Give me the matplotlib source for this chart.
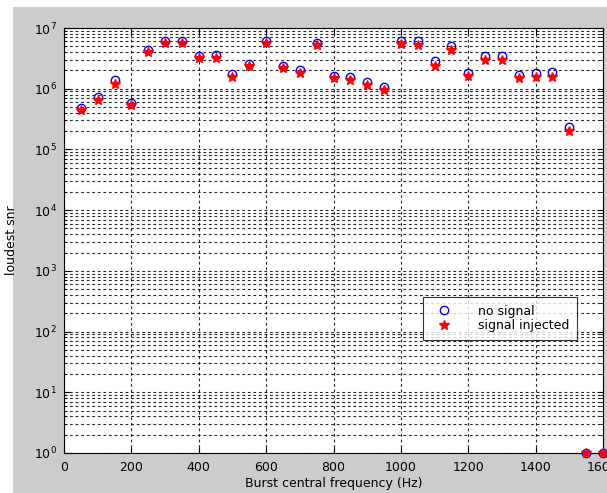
import numpy as np
import matplotlib.pyplot as plt
from matplotlib.patches import Rectangle
from matplotlib.ticker import LogLocator, FixedLocator

# burst central frequencies (Hz)
freq = [50, 100, 150, 200, 250, 300, 350, 400, 450, 500, 550, 600, 650, 700, 750, 800,
        850, 900, 950, 1000, 1050, 1100, 1150, 1200, 1250, 1300, 1350, 1400, 1450, 1500,
        1550, 1600]

# loudest snr, no signal
snr_none = [4.9e5, 7.4e5, 1.4e6, 5.9e5, 4.3e6, 6.2e6, 6.2e6, 3.5e6, 3.6e6, 1.75e6,
            2.6e6, 6.2e6, 2.4e6, 2.0e6, 5.7e6, 1.6e6, 1.58e6, 1.3e6, 1.07e6, 6.2e6,
            6.2e6, 2.9e6, 5.0e6, 1.8e6, 3.5e6, 3.4e6, 1.7e6, 1.8e6, 1.9e6, 2.3e5,
            1.0, 1.0]

# loudest snr, signal injected
snr_inj = [4.5e5, 6.5e5, 1.2e6, 5.4e5, 4.1e6, 5.7e6, 5.6e6, 3.2e6, 3.2e6, 1.58e6,
           2.4e6, 5.6e6, 2.2e6, 1.8e6, 5.3e6, 1.5e6, 1.4e6, 1.15e6, 9.6e5, 5.5e6,
           5.3e6, 2.4e6, 4.3e6, 1.65e6, 3.0e6, 3.0e6, 1.5e6, 1.58e6, 1.55e6, 2.0e5,
           1.0, 1.0]

xticks = [0, 200, 400, 600, 800, 1000, 1200, 1400, 1600]

fig = plt.figure(figsize=(6.07, 4.93), dpi=100, facecolor='white')
# grey MATLAB figure background, cropped with a white margin top/left
fig.patches.append(Rectangle((13 / 607, 0), 1, (493 - 7) / 493,
                             transform=fig.transFigure, facecolor='#cccccc',
                             edgecolor='none', zorder=-10))

ax = fig.add_axes([64 / 607, 40 / 493, 539 / 607, 425 / 493])
ax.set_facecolor('white')

ax.plot(freq, snr_none, 'o', color='blue', markerfacecolor='none',
        markersize=6, markeredgewidth=1.0, label='no signal', clip_on=False, zorder=3)
ax.plot(freq, snr_inj, '*', color='red', markersize=7, markeredgewidth=1.0,
        label='signal injected', clip_on=False, zorder=4)

ax.set_yscale('log')
ax.set_xlim(0, 1600)
ax.set_ylim(1, 1e7)
ax.xaxis.set_major_locator(FixedLocator(xticks))
ax.yaxis.set_major_locator(LogLocator(base=10, numticks=10))
ax.yaxis.set_minor_locator(LogLocator(base=10, subs=np.arange(2, 10), numticks=20))

grid_kw = dict(color='black', linestyle=(0, (2.5, 2.5)), linewidth=0.8, alpha=0.85)
ax.grid(True, which='major', axis='both', **grid_kw)
ax.grid(True, which='minor', axis='y', **grid_kw)

ax.tick_params(which='both', direction='in', top=True, right=True,
               labelsize=9, colors='black')
ax.tick_params(which='major', length=4)
ax.tick_params(which='minor', length=2)
ax.tick_params(axis='x', which='minor', bottom=False, top=False)
ax.tick_params(axis='x', pad=6)
ax.tick_params(axis='y', pad=5)

for s in ax.spines.values():
    s.set_color('black')
    s.set_linewidth(0.8)

ax.set_xlabel('Burst central frequency (Hz)', fontsize=9)
ax.set_ylabel('loudest snr', fontsize=9)
ax.xaxis.set_label_coords(0.5, -0.057)
ax.yaxis.set_label_coords(-0.085, 0.5)

leg = ax.legend(loc='upper left', bbox_to_anchor=(359 / 539, (453 - 297) / 425),
                fontsize=9, frameon=True, fancybox=False, edgecolor='black',
                borderpad=0.6, borderaxespad=0, handletextpad=1.6,
                labelspacing=0.15, handlelength=2.2)
leg.get_frame().set_linewidth(0.8)

plt.savefig('out.png', dpi=100, facecolor=fig.get_facecolor())
